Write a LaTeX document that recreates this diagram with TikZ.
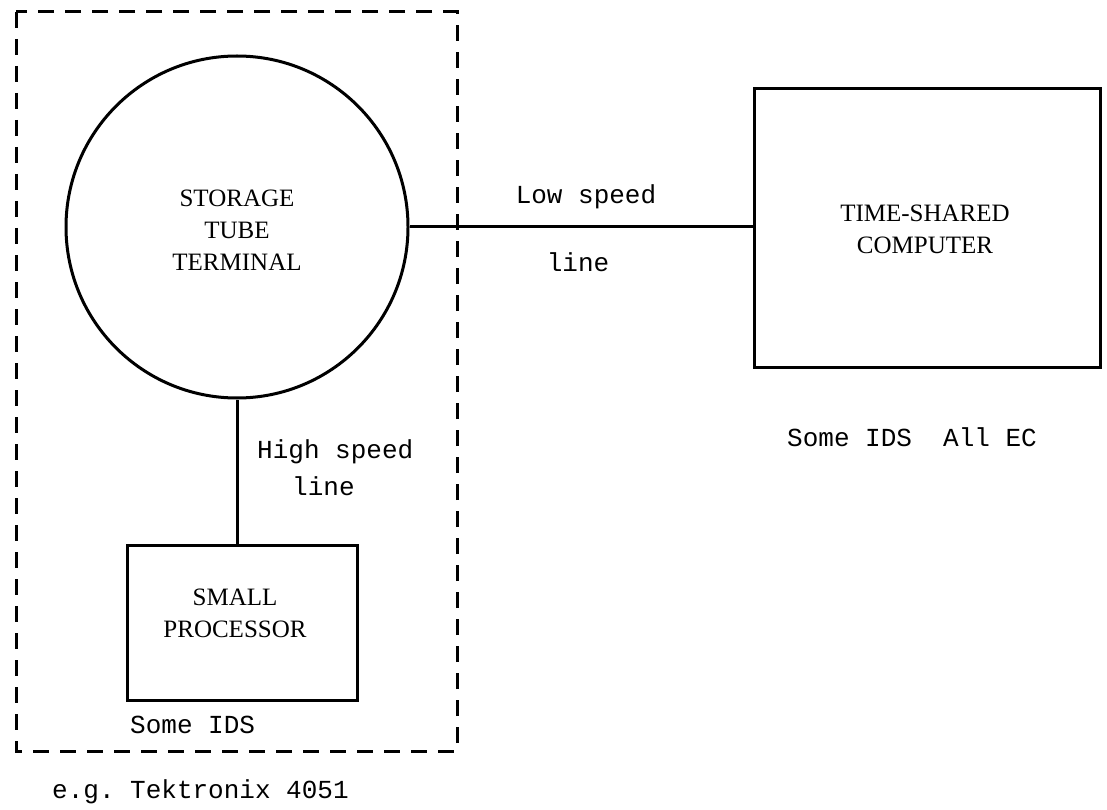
\documentclass[tikz,border=0pt]{standalone}
\usepackage{fontspec}
\setmainfont{Liberation Serif}
\setmonofont{Liberation Mono}
\begin{document}
\begin{tikzpicture}[x=1pt,y=-1pt,
  solid/.style={draw=black,line width=3pt},
  lbl/.style={font=\fontsize{25}{32}\selectfont,align=center,inner sep=0pt},
  tt/.style={font=\fontsize{26}{34}\ttfamily\selectfont,inner sep=0pt,align=left},
  group/.style={draw=black,line width=3pt,dash pattern=on 16pt off 11pt}]
\useasboundingbox (0,0) rectangle (1107,810);
\fill[white] (0,0) rectangle (1107,810);
% dashed enclosure
\draw[group] (16,12) rectangle (457,751);
% nodes
\node[solid,circle,minimum size=342pt,inner sep=0pt] (term) at (237,227) {};
\node[lbl] (termtxt) at (237,230) {STORAGE\\TUBE\\TERMINAL};
\node[solid,rectangle,minimum width=346pt,minimum height=279pt,inner sep=0pt] (comp) at (927,228) {};
\node[lbl] (comptxt) at (925,229) {TIME-SHARED\\COMPUTER};
\node[solid,rectangle,minimum width=230pt,minimum height=155pt,inner sep=0pt,anchor=north] (proc) at (242,544) {};
\node[lbl] (proctxt) at (235,613) {SMALL\\PROCESSOR};
% connectors
\draw[solid] (term.east) -- (term.east -| comp.west);
\draw[solid] (term.south) -- (term.south |- proc.north);
% labels
\node[tt] (low) at (586,197) {Low speed};
\node[tt] (lowb) at (578,262) {line};
\node[tt,anchor=west] (high) at (257,452) {High speed};
\node[tt,anchor=west] (highb) at (292,486) {line};
\node[tt,anchor=west] (ids1) at (130,725) {Some IDS};
\node[tt,anchor=west] (ids2) at (787,437) {Some IDS\ \ All EC};
\node[tt,anchor=west] (tek) at (52,792) {e.g. Tektronix 4051};
\end{tikzpicture}
\end{document}
